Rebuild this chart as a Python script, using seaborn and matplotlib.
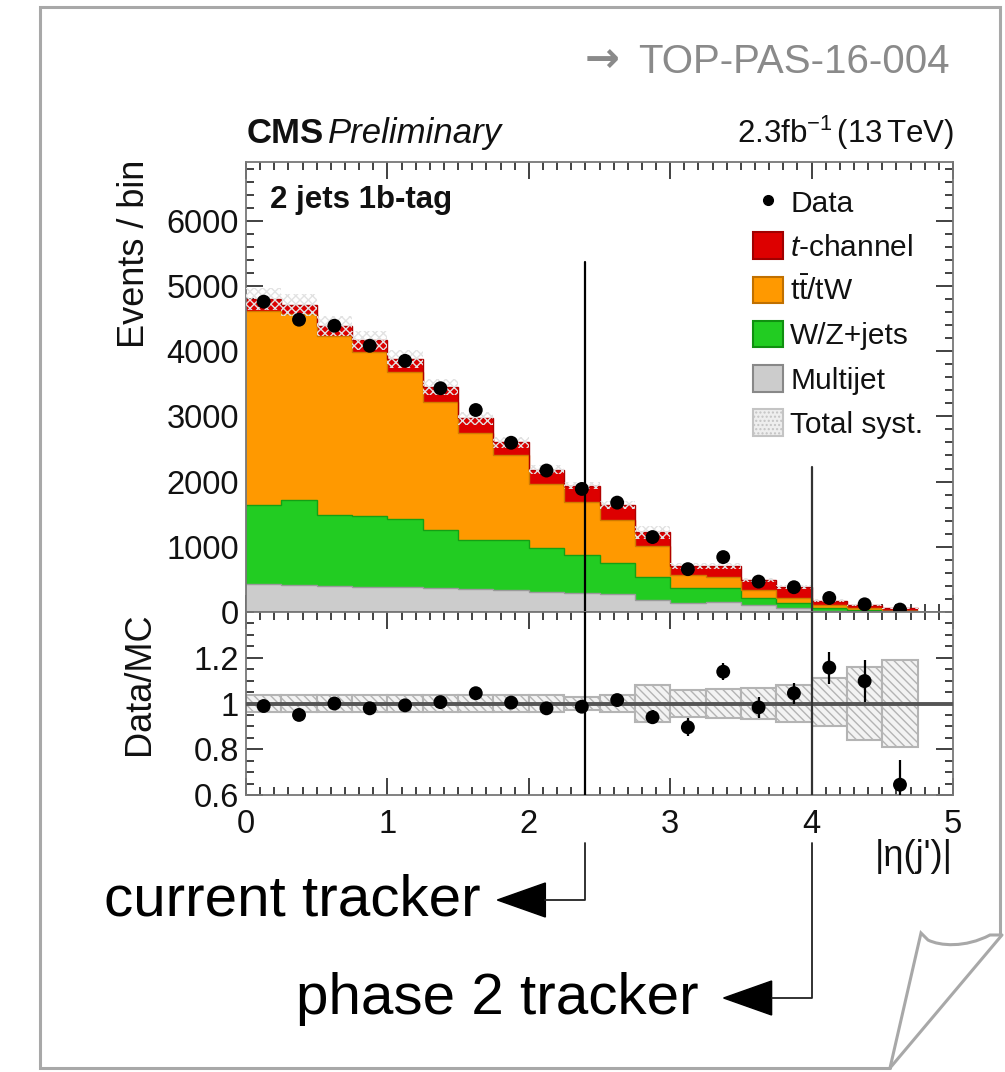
import numpy as np
import matplotlib
matplotlib.use("Agg")
import matplotlib.pyplot as plt
import seaborn as sns
from matplotlib.lines import Line2D
from matplotlib.patches import Patch, Polygon, PathPatch
from matplotlib.path import Path
from matplotlib.ticker import MultipleLocator, FixedLocator, FixedFormatter

# ---------------- data ----------------
bin_edges = [0.0, 0.25, 0.5, 0.75, 1.0, 1.25, 1.5, 1.75, 2.0, 2.25, 2.5,
             2.75, 3.0, 3.25, 3.5, 3.75, 4.0, 4.25, 4.5, 4.75]
multijet = [426, 415, 400, 389, 389, 365, 349, 338, 312, 288, 272, 185, 134, 158, 108, 57, 20, 15, 8]
wz_jets = [1220, 1308, 1092, 1088, 1037, 897, 759, 770, 668, 589, 482, 358, 231, 207, 103, 77, 37, 16, 7]
ttbar_tw = [2974, 2846, 2743, 2508, 2256, 1958, 1641, 1292, 989, 805, 661, 462, 204, 178, 127, 77, 51, 26, 8]
t_channel = [180, 139, 154, 184, 195, 226, 220, 200, 216, 256, 231, 215, 139, 165, 154, 169, 66, 51, 34]
data_events = [4758, 4482, 4389, 4082, 3851, 3431, 3097, 2595, 2169, 1887, 1677, 1149, 657, 842, 466, 380, 215, 118, 37]
ratio_values = [0.989, 0.950, 1.000, 0.979, 0.992, 1.006, 1.045, 1.004, 0.979, 0.986,
                1.015, 0.940, 0.896, 1.139, 0.983, 1.045, 1.157, 1.098, 0.645]
ratio_errors = [0.014, 0.015, 0.015, 0.016, 0.016, 0.017, 0.018, 0.02, 0.021, 0.023,
                0.025, 0.03, 0.04, 0.036, 0.045, 0.045, 0.07, 0.09, 0.11]
syst_up = [0.035, 0.035, 0.035, 0.035, 0.035, 0.035, 0.035, 0.035, 0.035, 0.03,
           0.038, 0.08, 0.06, 0.065, 0.068, 0.08, 0.11, 0.16, 0.19]
syst_down = [0.035, 0.035, 0.035, 0.035, 0.035, 0.035, 0.035, 0.035, 0.035, 0.03,
             0.038, 0.08, 0.06, 0.065, 0.068, 0.08, 0.10, 0.16, 0.19]
x_ticks = [0, 1, 2, 3, 4, 5]
y_ticks_main = [0, 1000, 2000, 3000, 4000, 5000, 6000]
y_ticks_ratio = [0.6, 0.8, 1.0, 1.2]
y_ticklabels_ratio = ["0.6", "0.8", "1", "1.2"]
tracker_limits = [2.4, 4.0]
tracker_labels = ["current tracker", "phase 2 tracker"]
legend_labels = ["Data", "$t$-channel", r"t$\bar{\mathrm{t}}$/tW", "W/Z+jets", "Multijet", "Total syst."]

# ---------------- style ----------------
sns.set_style("ticks")
plt.rcParams['font.family'] = ['Liberation Sans', 'DejaVu Sans']
plt.rcParams['mathtext.fontset'] = 'custom'
plt.rcParams['mathtext.rm'] = 'Liberation Sans'
plt.rcParams['mathtext.it'] = 'Liberation Sans:italic'
plt.rcParams['mathtext.bf'] = 'Liberation Sans:bold'
plt.rcParams['hatch.linewidth'] = 1.0

W, H = 1005, 1072
fig = plt.figure(figsize=(W / 100, H / 100), dpi=100)
fig.patch.set_facecolor('white')
L, R = 246, 953
T_MAIN, B_MAIN, B_RATIO = 162, 612, 795


def rect(x0, y0, x1, y1):
    return [x0 / W, 1 - y1 / H, (x1 - x0) / W, (y1 - y0) / H]


ax = fig.add_axes(rect(L, T_MAIN, R, B_MAIN))
axr = fig.add_axes(rect(L, B_MAIN, R, B_RATIO), sharex=ax)

edges = np.array(bin_edges)
centers = 0.5 * (edges[:-1] + edges[1:])
n = len(centers)

components = [
    (multijet, '#cccccc', '#9a9a9a'),
    (wz_jets, '#22cc22', '#14a014'),
    (ttbar_tw, '#ff9900', '#d07a00'),
    (t_channel, '#dd0000', '#b00000'),
]
base = np.zeros(n)
for vals, fc, ec in components:
    top = base + np.asarray(vals, dtype=float)
    ax.stairs(top, edges, baseline=base, fill=True, facecolor=fc, edgecolor='none', lw=0, zorder=2)
    ax.stairs(top, edges, baseline=None, color=ec, lw=1.0, zorder=2.5)
    base = top
total = base

s_up = np.asarray(syst_up)
s_dn = np.asarray(syst_down)
ax.fill_between(edges, np.append(total * (1 + s_up), total[-1] * (1 + s_up[-1])),
                np.append(total * (1 - s_dn), total[-1] * (1 - s_dn[-1])),
                step='post', facecolor='none', edgecolor='#e2e2e2', hatch='xxxx', lw=0, zorder=3)

sns.scatterplot(x=centers, y=data_events, color='black', s=100, edgecolor='none',
                ax=ax, zorder=6, legend=False)

# tracker lines in main panel
ax.plot([tracker_limits[0]] * 2, [0, 5370], color='black', lw=1.6, zorder=7)
ax.plot([tracker_limits[1]] * 2, [0, 2220], color='#333333', lw=1.6, zorder=7)

ax.set_xlim(0, 5)
ax.set_ylim(0, 6900)

# ---------------- ratio panel ----------------
axr.bar(centers, s_up + s_dn, bottom=1 - s_dn, width=0.25, facecolor='#f3f3f3',
        edgecolor='#b4b4b4', hatch='\\\\\\\\', lw=1.5, zorder=2)
axr.axhline(1.0, color='#555555', lw=2.8, zorder=3)
axr.errorbar(centers, ratio_values, yerr=ratio_errors, fmt='none', ecolor='black',
             elinewidth=1.6, capsize=0, zorder=5)
sns.scatterplot(x=centers, y=ratio_values, color='black', s=100, edgecolor='none',
                ax=axr, zorder=6, legend=False)
for xv, c in zip(tracker_limits, ['black', '#333333']):
    axr.axvline(xv, color=c, lw=1.6, zorder=7)
axr.set_ylim(0.6, 1.4)
axr.set_xlim(0, 5)

# ---------------- axes cosmetics ----------------
for a in (ax, axr):
    for sp in a.spines.values():
        sp.set_color('#777777')
        sp.set_linewidth(1.3)
    a.tick_params(which='both', direction='in', top=True, right=True, color='#333333',
                  width=1.3, labelsize=23.5, labelcolor='#111111')
    a.tick_params(which='major', length=12)
    a.tick_params(which='minor', length=6)
    a.xaxis.set_major_locator(FixedLocator(x_ticks))
    a.xaxis.set_minor_locator(MultipleLocator(0.1))
ax.tick_params(axis='y', pad=5)
axr.tick_params(axis='y', pad=5)
axr.tick_params(axis='x', pad=10)
ax.yaxis.set_major_locator(FixedLocator(y_ticks_main))
ax.yaxis.set_minor_locator(MultipleLocator(200))
axr.yaxis.set_major_locator(FixedLocator(y_ticks_ratio))
axr.yaxis.set_major_formatter(FixedFormatter(y_ticklabels_ratio))
axr.yaxis.set_minor_locator(MultipleLocator(0.05))
ax.tick_params(labelbottom=False)

ax.set_ylabel('Events / bin', fontsize=26, loc='top', color='#111111')
ax.yaxis.set_label_coords(-0.133, 1.005)
axr.set_ylabel('Data/MC', fontsize=26, loc='top', color='#111111')
axr.yaxis.set_label_coords(-0.126, 1.0)
axr.set_xlabel("|η(j')|", fontsize=26, loc='right', color='#111111')
axr.xaxis.set_label_coords(1.0, -0.24)

# legend
handles = [
    Line2D([], [], marker='o', color='black', ls='none', markersize=7),
    Patch(facecolor='#dd0000', edgecolor='#a00000', lw=1.5),
    Patch(facecolor='#ff9900', edgecolor='#c07000', lw=1.5),
    Patch(facecolor='#22cc22', edgecolor='#109010', lw=1.5),
    Patch(facecolor='#cccccc', edgecolor='#888888', lw=1.5),
    Patch(facecolor='#eeeeee', edgecolor='#c4c4c4', hatch='....', lw=1.5),
]
leg = ax.legend(handles, legend_labels, loc='upper left',
                bbox_to_anchor=(753 / W, 1 - 188 / H), bbox_transform=fig.transFigure,
                frameon=False, fontsize=21.5, handlelength=1.0, handleheight=1.0,
                handletextpad=0.25, labelspacing=0.49, borderpad=0, borderaxespad=0)
for t in leg.get_texts():
    t.set_color('#111111')

fig.text(270 / W, 1 - 208 / H, '2 jets 1b-tag', fontsize=22.5, fontweight='bold',
         ha='left', va='baseline', color='#111111')

# ---------------- overlay (header, annotations, frame) ----------------
ov = fig.add_axes([0, 0, 1, 1], zorder=10)
ov.set_xlim(0, W)
ov.set_ylim(H, 0)
ov.axis('off')
ov.patch.set_alpha(0)

ov.text(950, 73, 'TOP-PAS-16-004', fontsize=29, color='#8a8a8a', ha='right', va='baseline')
ov.text(602, 60, '→', fontsize=30, color='#8a8a8a', ha='center', va='center',
        family=['DejaVu Sans'], fontweight='bold')
t1 = ov.text(247, 143, 'CMS', fontsize=25, fontweight='bold', ha='left', va='baseline', color='#111111')
fig.canvas.draw()
bb = t1.get_window_extent()
ov.text(bb.x1 + 4, 143, 'Preliminary', fontsize=25, style='italic', ha='left', va='baseline',
        color='#111111')
ov.text(954, 143, r'$\mathregular{2.3fb^{-1}\,(13\,TeV)}$', fontsize=22.5, ha='right', va='baseline',
        color='#111111')

# tracker arrows below the axes
arrow_y = [900, 998]
text_right = [481, 699]
for xv, ay, label, tr in zip(tracker_limits, arrow_y, tracker_labels, text_right):
    xpix = ax.transData.transform((xv, 0))[0]
    ov.plot([xpix, xpix, xpix - 40], [843, ay, ay], color='#222222', lw=1.3)
    ov.add_patch(Polygon([[xpix - 40, ay - 17], [xpix - 40, ay + 17], [xpix - 88, ay]],
                         closed=True, facecolor='black', edgecolor='black'))
    ov.text(tr, ay + 16, label, fontsize=42, ha='right', va='baseline', color='black')

# frame with page curl
frame_col = '#a8a8a8'
ov.plot([890, 40, 40, 1000, 1000], [1068, 1068, 7, 7, 935], color=frame_col, lw=2.2,
        solid_joinstyle='miter')
ov.plot([1002, 890], [935, 1068], color=frame_col, lw=2.2)
curl = Path([(890, 1068), (921, 933), (928, 940), (940, 946), (965, 948), (990, 935), (1002, 935)],
            [Path.MOVETO, Path.LINETO, Path.LINETO, Path.CURVE4, Path.CURVE4, Path.CURVE4, Path.LINETO])
ov.add_patch(PathPatch(curl, facecolor='none', edgecolor=frame_col, lw=2.2))

fig.savefig('out.png', dpi=100, facecolor='white')
